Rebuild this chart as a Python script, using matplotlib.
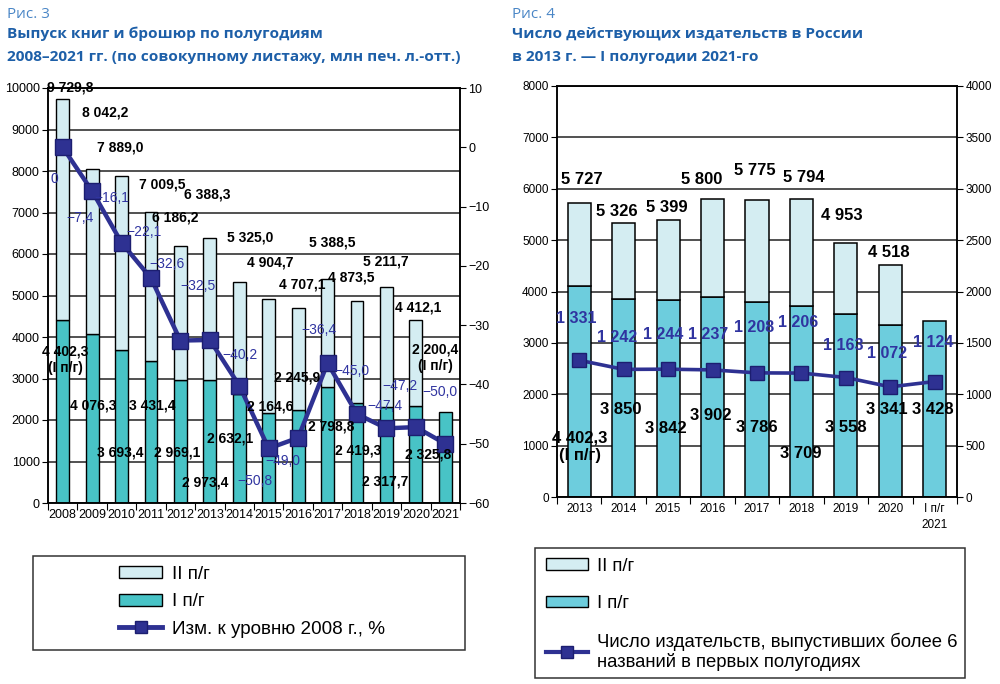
import numpy as np
import matplotlib
matplotlib.use("Agg")
import matplotlib.pyplot as plt
from matplotlib.patches import Patch, Rectangle
from matplotlib.lines import Line2D

plt.rcParams['font.family'] = ['Liberation Sans', 'DejaVu Sans']

# --- Рис. 3: выпуск книг, млн печ. л.-отт. ---
years3 = ['2008', '2009', '2010', '2011', '2012', '2013', '2014',
          '2015', '2016', '2017', '2018', '2019', '2020', '2021']
half1_3 = [4402.3, 4076.3, 3693.4, 3431.4, 2969.1, 2973.4, 2632.1,
           2164.6, 2245.9, 2798.8, 2419.3, 2317.7, 2325.8, 2200.4]
total3 = [9729.8, 8042.2, 7889.0, 7009.5, 6186.2, 6388.3, 5325.0,
          4904.7, 4707.1, 5388.5, 4873.5, 5211.7, 4412.1, 2200.4]
pct3 = [0, -7.4, -16.1, -22.1, -32.6, -32.5, -40.2,
        -50.8, -49.0, -36.4, -45.0, -47.4, -47.2, -50.0]

# where the labels sit in the scan (data coords)
tot3_xy = [(0.25, 10020), (1.44, 9420), (1.95, 8575), (3.37, 7681),
           (3.82, 6884), (4.90, 7440), (6.36, 6401), (7.04, 5797),
           (8.13, 5266), (9.15, 6280), (9.80, 5435), (10.98, 5821),
           (12.07, 4710)]
half3_xy = [(0.08, 3454), (1.03, 2343), (1.95, 1208), (3.03, 2343),
            (3.88, 1208), (4.83, 483), (5.68, 1546), (7.04, 2319),
            (7.96, 3019), (9.12, 1836), (10.03, 1256), (10.95, 507),
            (12.41, 1159), (12.65, 3502)]
pct3_xy = [(-0.30, -5.4), (0.59, -12.0), (1.67, -8.6), (2.76, -14.3),
           (3.54, -19.7), (4.60, -23.4), (6.02, -35.0), (6.53, -56.3),
           (7.49, -52.9), (8.71, -30.9), (9.83, -37.7), (10.95, -43.7),
           (11.46, -40.3), (12.82, -41.2)]

# --- Рис. 4: число издательств ---
years4 = ['2013', '2014', '2015', '2016', '2017', '2018', '2019',
          '2020', 'I п/г\n2021']
half1_4 = [4110, 3850, 3842, 3902, 3786, 3709, 3558, 3341, 3428]
total4 = [5727, 5326, 5399, 5800, 5775, 5794, 4953, 4518, 3428]
publishers = [1331, 1242, 1244, 1237, 1208, 1206, 1163, 1072, 1124]

tot4_xy = [(0.06, 6187), (0.85, 5564), (1.98, 5642), (2.76, 6187),
           (3.96, 6362), (5.06, 6226), (5.91, 5486), (6.97, 4767)]
half4_xy = [(0.02, 973), (0.94, 1712), (1.95, 1342), (2.97, 1595),
            (4.0, 1362), (4.99, 856), (6.0, 1362), (6.93, 1712),
            (7.96, 1712)]
pub_xy = [(-0.07, 1742), (0.85, 1557), (1.89, 1586), (2.9, 1586),
          (3.93, 1645), (4.92, 1703), (5.94, 1470), (6.93, 1392),
          (7.96, 1508)]

LIGHT = '#d4edf2'
TEAL3 = '#48c3c6'
TEAL4 = '#6dcddd'
NAVY = '#2e3192'
LBL_BLUE = '#3034a0'
HEAD_BLUE = '#1d5fa8'
FIG_BLUE = '#4a86c6'


def ru_num(v, dec=1):
    """number with space thousands and comma decimal"""
    s = f'{abs(v):,.{dec}f}'.replace(',', ' ').replace('.', ',')
    return ('\u2212' + s) if v < 0 else s


def style_axes(ax, axr, n, fs):
    ax.set_xlim(-0.5, n - 0.5)
    ax.set_xticks(np.arange(-0.5, n, 1))
    ax.set_xticklabels([])
    ax.tick_params(axis='x', which='major', length=5, color='black')
    ax.tick_params(axis='y', length=4, labelsize=fs, colors='black', pad=2)
    ax.tick_params(axis='x', which='minor', length=0, labelsize=fs, pad=4)
    axr.tick_params(axis='y', length=4, labelsize=fs, pad=2)
    ax.yaxis.grid(True, color='#222222', lw=1.1)
    ax.set_axisbelow(True)
    for sp in ax.spines.values():
        sp.set_color('black')
        sp.set_linewidth(1.1)
    for sp in axr.spines.values():
        sp.set_color('black')
        sp.set_linewidth(1.1)


def main():
    fig = plt.figure(figsize=(10, 6.84), dpi=100)

    # headings
    fig.text(0.007, 1 - 14 / 684, 'Рис. 3', va='center', ha='left',
             fontsize=11, color=FIG_BLUE, family='Open Sans')
    fig.text(0.007, 1 - 34 / 684, 'Выпуск книг и брошюр по полугодиям',
             va='center', fontsize=11.1, color=HEAD_BLUE,
             family='Open Sans', fontweight='bold')
    fig.text(0.007, 1 - 57 / 684,
             '2008–2021 гг. (по совокупному листажу, млн печ. л.-отт.)',
             va='center', fontsize=11.1, color=HEAD_BLUE,
             family='Open Sans', fontweight='bold')
    fig.text(0.512, 1 - 14 / 684, 'Рис. 4', va='center', ha='left',
             fontsize=11, color=FIG_BLUE, family='Open Sans')
    fig.text(0.512, 1 - 34 / 684, 'Число действующих издательств в России',
             va='center', fontsize=11.1, color=HEAD_BLUE,
             family='Open Sans', fontweight='bold')
    fig.text(0.512, 1 - 57 / 684, 'в 2013 г. — I полугодии 2021-го',
             va='center', fontsize=11.1, color=HEAD_BLUE,
             family='Open Sans', fontweight='bold')

    # ---------- Рис. 3 ----------
    ax1 = fig.add_axes([0.048, 1 - 503 / 684, 0.412, 415 / 684])
    ax2 = ax1.twinx()
    x3 = np.arange(len(years3))
    half2_3 = [t - h for t, h in zip(total3, half1_3)]
    ax1.bar(x3, half1_3, width=0.44, color=TEAL3, edgecolor='black', lw=1)
    ax1.bar(x3[:-1], half2_3[:-1], bottom=half1_3[:-1], width=0.44,
            color=LIGHT, edgecolor='black', lw=1)
    ax2.plot(x3, pct3, color=NAVY, lw=3.2, marker='s', markersize=11,
             markerfacecolor=NAVY, markeredgecolor='#1c1e70')

    ax1.set_ylim(0, 10000)
    ax1.set_yticks(np.arange(0, 10001, 1000))
    ax2.set_ylim(-60, 10)
    ax2.set_yticks(np.arange(-60, 11, 10))
    ax1.set_xticks(x3, minor=True)
    ax1.set_xticklabels(years3, minor=True)
    style_axes(ax1, ax2, len(years3), 9)

    for i, (px, py) in enumerate(tot3_xy):
        ax2.text(px, py, ru_num(total3[i]), transform=ax1.transData,
                 ha='center', va='center', fontsize=10, fontweight='bold')
    for i, (px, py) in enumerate(half3_xy):
        lbl = ru_num(half1_3[i])
        if i in (0, len(half1_3) - 1):
            lbl += '\n(I п/г)'
        ax2.text(px, py, lbl, transform=ax1.transData, ha='center',
                 va='center', fontsize=10, fontweight='bold')
    for i, (px, py) in enumerate(pct3_xy):
        lbl = '0' if pct3[i] == 0 else ru_num(pct3[i])
        ax2.text(px, py, lbl, ha='center', va='center', fontsize=10,
                 color=LBL_BLUE)

    # ---------- Рис. 4 ----------
    ax3 = fig.add_axes([0.557, 1 - 497 / 684, 0.400, 411 / 684])
    ax4 = ax3.twinx()
    x4 = np.arange(len(years4))
    half2_4 = [t - h for t, h in zip(total4, half1_4)]
    ax3.bar(x4, half1_4, width=0.52, color=TEAL4, edgecolor='black', lw=1.1)
    ax3.bar(x4[:-1], half2_4[:-1], bottom=half1_4[:-1], width=0.52,
            color=LIGHT, edgecolor='black', lw=1.1)
    ax4.plot(x4, publishers, color=NAVY, lw=2.6, marker='s', markersize=10,
             markerfacecolor=NAVY, markeredgecolor='#1c1e70')

    ax3.set_ylim(0, 8000)
    ax3.set_yticks(np.arange(0, 8001, 1000))
    ax4.set_ylim(0, 4000)
    ax4.set_yticks(np.arange(0, 4001, 500))
    ax3.set_xticks(x4, minor=True)
    ax3.set_xticklabels(years4, minor=True)
    style_axes(ax3, ax4, len(years4), 8.5)
    ax3.get_xticklabels(minor=True)[-1].set_linespacing(1.5)

    for i, (px, py) in enumerate(tot4_xy):
        ax4.text(px, py, ru_num(total4[i], 0), transform=ax3.transData,
                 ha='center', va='center', fontsize=12, fontweight='bold')
    for i, (px, py) in enumerate(half4_xy):
        lbl = '4 402,3\n(I п/г)' if i == 0 else ru_num(half1_4[i], 0)
        ax4.text(px, py, lbl, transform=ax3.transData, ha='center',
                 va='center', fontsize=12, fontweight='bold')
    for i, (px, py) in enumerate(pub_xy):
        ax4.text(px, py, ru_num(publishers[i], 0), ha='center',
                 va='center', fontsize=11.5, fontweight='bold',
                 color=LBL_BLUE)

    # ---------- legends ----------
    line_h = Line2D([], [], color=NAVY, lw=3.5, marker='s', markersize=8,
                    markerfacecolor=NAVY, markeredgecolor='#1c1e70')
    h3 = [Patch(facecolor=LIGHT, edgecolor='black', lw=1),
          Patch(facecolor=TEAL3, edgecolor='black', lw=1), line_h]
    fig.patches.append(Rectangle((0.033, 1 - 650 / 684), 0.432, 94 / 684,
                                 transform=fig.transFigure, fill=False,
                                 edgecolor='#333333', lw=1.1))
    fig.legend(h3, ['II п/г', 'I п/г', 'Изм. к уровню 2008 г., %'],
               loc='upper left', bbox_to_anchor=(0.102, 1 - 549 / 684),
               frameon=False, fontsize=13.6, handlelength=2.3,
               handleheight=0.6, handletextpad=0.5, labelspacing=0.55)

    line_h4 = Line2D([], [], color=NAVY, lw=3, marker='s', markersize=8,
                     markerfacecolor=NAVY, markeredgecolor='#1c1e70')
    h4 = [Patch(facecolor=LIGHT, edgecolor='black', lw=1),
          Patch(facecolor=TEAL4, edgecolor='black', lw=1), line_h4]
    fig.patches.append(Rectangle((0.535, 1 - 678 / 684), 0.430, 130 / 684,
                                 transform=fig.transFigure, fill=False,
                                 edgecolor='#333333', lw=1.1))
    fig.legend(h4, ['II п/г', 'I п/г',
                    'Число издательств, выпустивших более 6\n'
                    'названий в первых полугодиях'],
               loc='upper left', bbox_to_anchor=(0.529, 1 - 541 / 684),
               frameon=False, fontsize=13.3, handlelength=2.3,
               handleheight=0.6, handletextpad=0.5, labelspacing=1.1)

    fig.savefig('out.png', dpi=100, facecolor='white')
    plt.close(fig)


if __name__ == '__main__':
    main()
